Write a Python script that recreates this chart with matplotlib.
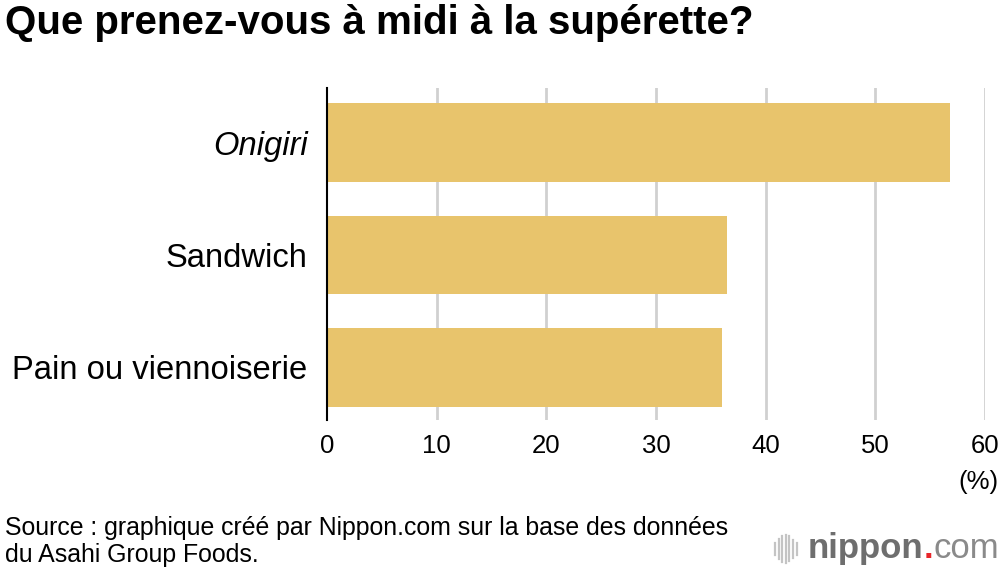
import matplotlib.pyplot as plt
from matplotlib.lines import Line2D

categories = ['Onigiri', 'Sandwich', 'Pain ou viennoiserie']
values = [56.8, 36.5, 36.0]
ticks = [0, 10, 20, 30, 40, 50, 60]

plt.rcParams['font.family'] = ['Liberation Sans', 'DejaVu Sans']

fig = plt.figure(figsize=(10, 5.7), dpi=100)
ax = fig.add_axes([0.327, 0.263, 0.658, 0.583])

ypos = list(range(len(categories)))
ax.barh(ypos, values, height=0.7, color='#E8C46C', zorder=2)
ax.set_xlim(0, 60)
ax.set_ylim(2.47, -0.49)

for t in ticks[1:]:
    ax.axvline(t, color='#d0d0d0', lw=2, zorder=1)

for s in ['top', 'right', 'bottom']:
    ax.spines[s].set_visible(False)
ax.spines['left'].set_linewidth(1.5)
ax.spines['left'].set_zorder(3)

ax.set_xticks(ticks)
ax.set_xticklabels([str(t) for t in ticks], fontsize=18.5)
ax.tick_params(axis='x', length=0, pad=10)
ax.set_yticks(ypos)
ax.set_yticklabels(categories, fontsize=23.6)
ax.tick_params(axis='y', length=0, pad=14)
ax.get_yticklabels()[0].set_style('italic')

fig.text(0.998, 0.155, '(%)', fontsize=18.5, ha='right', va='center')

fig.text(0.005, 0.96, 'Que prenez-vous à midi à la supérette?', fontsize=29,
         fontweight='bold', ha='left', va='center')

fig.text(0.005, 0.05, 'Source : graphique créé par Nippon.com sur la base des données\ndu Asahi Group Foods.',
         fontsize=17.9, ha='left', va='center', linespacing=1.2)

# logo
yl = 0.037
heights = [0.02, 0.034, 0.046, 0.05, 0.044, 0.032, 0.02]
for i, h in enumerate(heights):
    x = 0.775 + i * 0.0036
    fig.add_artist(Line2D([x, x], [yl - h / 2, yl + h / 2], color='#c4c4c4', lw=1.6))
t1 = fig.text(0.808, yl, 'nippon', fontsize=25, fontweight='bold', color='#6e6e6e',
              ha='left', va='center')
fig.canvas.draw()
bb = t1.get_window_extent()
t2 = fig.text(bb.x1 / fig.bbox.width, yl, '.', fontsize=25, color='#e8262a', ha='left',
              va='center', fontweight='bold')
bb2 = t2.get_window_extent()
fig.text(bb2.x1 / fig.bbox.width, yl, 'com', fontsize=25, color='#8a8a8a',
         ha='left', va='center')

fig.savefig('out.png', dpi=100)
